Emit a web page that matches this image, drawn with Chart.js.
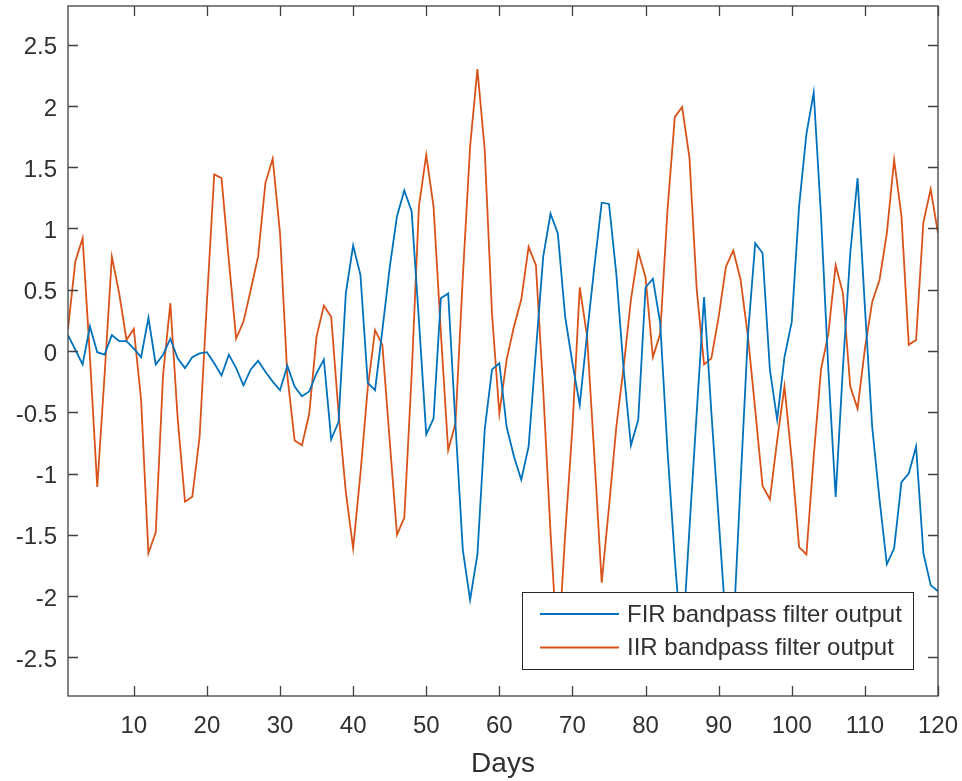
<!DOCTYPE html>
<html>
<head>
<meta charset="utf-8">
<script src="https://cdn.jsdelivr.net/npm/chart.js@4.4.1/dist/chart.umd.min.js"></script>
<style>
  html, body { margin: 0; padding: 0; background: #fff; }
  canvas { display: block; }
</style>
</head>
<body>
<canvas id="filterChart" width="962" height="781"></canvas>
<script>
// day index for both filter outputs
const days = Array.from({ length: 120 }, (_, i) => i + 1);

const firOutput = [
  0.13, 0.01, -0.11, 0.20, -0.01, -0.03, 0.13, 0.08, 0.08, 0.02,
  -0.05, 0.27, -0.11, -0.03, 0.10, -0.06, -0.14, -0.05, -0.02, -0.01,
  -0.10, -0.20, -0.03, -0.14, -0.28, -0.15, -0.08, -0.17, -0.25, -0.32,
  -0.12, -0.29, -0.37, -0.33, -0.18, -0.07, -0.72, -0.58, 0.47, 0.86,
  0.62, -0.26, -0.32, 0.17, 0.68, 1.10, 1.31, 1.14, 0.25, -0.68,
  -0.55, 0.43, 0.47, -0.60, -1.62, -2.03, -1.66, -0.64, -0.15, -0.10,
  -0.62, -0.86, -1.05, -0.78, 0.00, 0.77, 1.12, 0.96, 0.28, -0.10,
  -0.44, 0.14, 0.69, 1.21, 1.20, 0.63, -0.15, -0.77, -0.56, 0.52,
  0.59, 0.23, -0.81, -1.70, -2.45, -1.45, -0.50, 0.44, -0.50, -1.37,
  -2.24, -2.30, -1.07, 0.13, 0.88, 0.80, -0.15, -0.56, -0.05, 0.24,
  1.18, 1.77, 2.11, 1.10, -0.15, -1.19, -0.13, 0.80, 1.41, 0.36,
  -0.62, -1.21, -1.74, -1.61, -1.07, -1.00, -0.78, -1.65, -1.91, -1.96
];

const iirOutput = [
  0.18, 0.73, 0.92, -0.05, -1.11, -0.20, 0.77, 0.47, 0.09, 0.18,
  -0.40, -1.65, -1.48, -0.20, 0.39, -0.55, -1.23, -1.19, -0.70, 0.40,
  1.44, 1.41, 0.74, 0.10, 0.24, 0.50, 0.77, 1.37, 1.57, 0.96,
  -0.20, -0.73, -0.77, -0.51, 0.12, 0.37, 0.28, -0.50, -1.15, -1.61,
  -1.00, -0.30, 0.17, 0.05, -0.73, -1.50, -1.36, -0.20, 1.18, 1.60,
  1.18, 0.15, -0.81, -0.59, 0.60, 1.67, 2.30, 1.64, 0.30, -0.51,
  -0.07, 0.20, 0.42, 0.85, 0.70, -0.32, -1.48, -2.50, -1.50, -0.62,
  0.52, 0.12, -0.86, -1.89, -1.27, -0.62, -0.13, 0.42, 0.81, 0.60,
  -0.05, 0.14, 1.15, 1.91, 1.99, 1.58, 0.50, -0.11, -0.06, 0.28,
  0.69, 0.82, 0.58, 0.12, -0.48, -1.10, -1.21, -0.73, -0.29, -0.89,
  -1.60, -1.66, -0.86, -0.15, 0.14, 0.70, 0.47, -0.29, -0.47, 0.02,
  0.40, 0.58, 0.96, 1.56, 1.10, 0.05, 0.09, 1.05, 1.32, 0.96
];

const xTicks = [10, 20, 30, 40, 50, 60, 70, 80, 90, 100, 110, 120];
const yTicks = [-2.5, -2, -1.5, -1, -0.5, 0, 0.5, 1, 1.5, 2, 2.5];
const seriesNames = ['FIR bandpass filter output', 'IIR bandpass filter output'];
const seriesColors = ['#0072BD', '#D95319'];

const FONT = '"Liberation Sans", Arial, Helvetica, sans-serif';
const AXIS_COLOR = '#404040';
const TEXT_COLOR = '#303030';

// box round the axes with inward ticks, like the matlab figure
const boxPlugin = {
    id: 'boxTicks',
    afterDatasetsDraw(chart) {
        const ctx = chart.ctx;
        const a = chart.chartArea;
        const xs = chart.scales.x, ys = chart.scales.y;
        const len = 10;
        ctx.save();
        ctx.strokeStyle = AXIS_COLOR;
        ctx.lineWidth = 1.3;
        ctx.strokeRect(a.left, a.top, a.right - a.left, a.bottom - a.top);
        ctx.beginPath();
        xTicks.forEach(v => {
            const px = Math.round(xs.getPixelForValue(v)) + 0.5;
            ctx.moveTo(px, a.bottom); ctx.lineTo(px, a.bottom - len);
            ctx.moveTo(px, a.top); ctx.lineTo(px, a.top + len);
        });
        yTicks.forEach(v => {
            const py = Math.round(ys.getPixelForValue(v)) + 0.5;
            ctx.moveTo(a.left, py); ctx.lineTo(a.left + len, py);
            ctx.moveTo(a.right, py); ctx.lineTo(a.right - len, py);
        });
        ctx.stroke();

        // legend box (opaque, hides the lines behind it)
        const lx = 522, ly = 592, lw = 391, lh = 77;
        ctx.fillStyle = '#fff';
        ctx.fillRect(lx, ly, lw, lh);
        ctx.strokeStyle = '#262626';
        ctx.lineWidth = 1;
        ctx.strokeRect(lx + 0.5, ly + 0.5, lw, lh);
        ctx.font = '24px ' + FONT;
        ctx.textBaseline = 'middle';
        ctx.textAlign = 'left';
        seriesNames.forEach((name, i) => {
            const y = ly + 22 + i * 33.5;
            ctx.strokeStyle = seriesColors[i];
            ctx.lineWidth = 1.8;
            ctx.beginPath();
            ctx.moveTo(lx + 18, y); ctx.lineTo(lx + 97, y);
            ctx.stroke();
            ctx.fillStyle = TEXT_COLOR;
            ctx.fillText(name, lx + 105, y + 1);
        });
        ctx.restore();
    }
};

// drop the extra room chart.js keeps for end labels
function noPad(s) {
    s.paddingTop = 0;
    s.paddingBottom = 0;
    s.paddingLeft = 0;
    s.paddingRight = 0;
}

function initFilterChart() {
    const ctx = document.getElementById('filterChart').getContext('2d');
    new Chart(ctx, {
        type: 'line',
        data: {
            datasets: [
                {
                    label: seriesNames[0],
                    data: firOutput.map((v, i) => ({ x: days[i], y: v })),
                    borderColor: seriesColors[0],
                    borderWidth: 1.8,
                    pointRadius: 0,
                    tension: 0,
                    fill: false
                },
                {
                    label: seriesNames[1],
                    data: iirOutput.map((v, i) => ({ x: days[i], y: v })),
                    borderColor: seriesColors[1],
                    borderWidth: 1.8,
                    pointRadius: 0,
                    tension: 0,
                    fill: false
                }
            ]
        },
        options: {
            responsive: false,
            animation: false,
            layout: { padding: { left: 0, top: 6, right: 24, bottom: 0 } },
            scales: {
                x: {
                    type: 'linear',
                    min: 1,
                    max: 120,
                    afterBuildTicks: s => { s.ticks = xTicks.map(v => ({ value: v })); },
                    afterFit: s => { s.height = 85; noPad(s); },
                    grid: { display: false, drawTicks: false },
                    border: { display: false },
                    ticks: {
                        padding: 16,
                        maxRotation: 0,
                        color: TEXT_COLOR,
                        font: { family: FONT, size: 24 }
                    },
                    title: {
                        display: true,
                        text: 'Days',
                        color: TEXT_COLOR,
                        font: { family: FONT, size: 28, lineHeight: 1 },
                        padding: { top: 0, bottom: 3 }
                    }
                },
                y: {
                    min: -2.815,
                    max: 2.815,
                    afterBuildTicks: s => { s.ticks = yTicks.map(v => ({ value: v })); },
                    afterFit: s => { s.width = 68; noPad(s); },
                    grid: { display: false, drawTicks: false },
                    border: { display: false },
                    ticks: {
                        padding: 11,
                        labelOffset: 3,
                        color: TEXT_COLOR,
                        font: { family: FONT, size: 24 },
                        callback: v => String(v)
                    }
                }
            },
            plugins: {
                legend: { display: false },
                tooltip: { enabled: false }
            }
        },
        plugins: [boxPlugin]
    });
}

initFilterChart();
</script>
</body>
</html>
